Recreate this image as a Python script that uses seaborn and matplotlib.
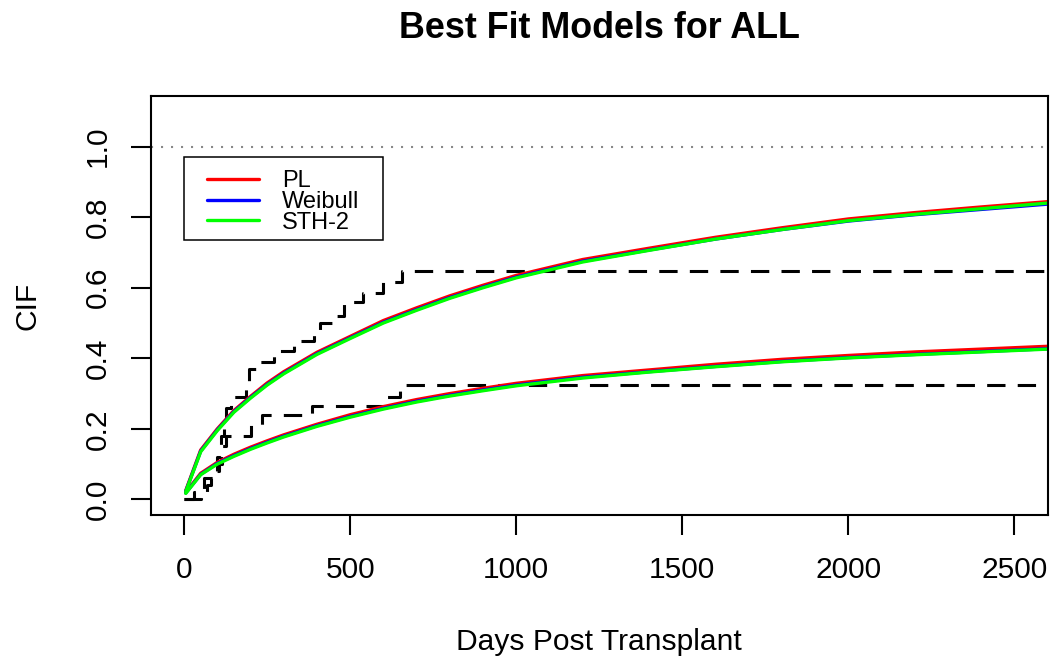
import numpy as np
import pandas as pd
import matplotlib
matplotlib.use("Agg")
import matplotlib.pyplot as plt
from matplotlib.lines import Line2D
from matplotlib.patches import Rectangle
import seaborn as sns

# fitted model curves (days, CIF) - two outcomes each
t_fit = [5, 50, 100, 150, 200, 250, 300, 400, 500, 600, 700, 800, 900, 1000,
         1200, 1400, 1600, 1800, 2000, 2200, 2400, 2600]
pl_upper = [0.025, 0.140, 0.200, 0.252, 0.292, 0.330, 0.362, 0.417, 0.462, 0.507, 0.543,
            0.577, 0.607, 0.635, 0.680, 0.712, 0.743, 0.770, 0.795, 0.813, 0.829, 0.844]
weib_upper = [0.023, 0.137, 0.197, 0.249, 0.289, 0.326, 0.358, 0.413, 0.458, 0.502, 0.538,
              0.572, 0.602, 0.630, 0.675, 0.707, 0.738, 0.765, 0.789, 0.807, 0.822, 0.837]
sth_upper = [0.022, 0.135, 0.195, 0.247, 0.287, 0.324, 0.356, 0.411, 0.456, 0.500, 0.536,
             0.570, 0.600, 0.628, 0.673, 0.706, 0.738, 0.765, 0.790, 0.808, 0.824, 0.840]
pl_lower = [0.020, 0.074, 0.105, 0.128, 0.148, 0.166, 0.183, 0.213, 0.240, 0.263, 0.283,
            0.300, 0.315, 0.329, 0.351, 0.367, 0.383, 0.397, 0.408, 0.418, 0.426, 0.434]
weib_lower = [0.018, 0.071, 0.102, 0.124, 0.144, 0.162, 0.179, 0.209, 0.235, 0.258, 0.278,
              0.295, 0.310, 0.324, 0.346, 0.362, 0.377, 0.391, 0.402, 0.411, 0.419, 0.427]
sth_lower = [0.017, 0.070, 0.100, 0.122, 0.142, 0.160, 0.177, 0.207, 0.233, 0.256, 0.276,
             0.293, 0.308, 0.322, 0.344, 0.361, 0.376, 0.390, 0.401, 0.410, 0.418, 0.426]

# nonparametric step estimates
km_upper_t = [0, 30, 60, 100, 110, 120, 125, 140, 185, 195, 230, 270, 330,
              390, 410, 450, 480, 540, 600, 655, 2600]
km_upper_y = [0.0, 0.02, 0.06, 0.12, 0.18, 0.22, 0.26, 0.29, 0.32, 0.37, 0.39, 0.42,
              0.45, 0.47, 0.50, 0.52, 0.56, 0.585, 0.615, 0.647, 0.647]
km_lower_t = [0, 50, 70, 80, 95, 105, 115, 125, 200, 235, 385, 610, 650, 665, 2600]
km_lower_y = [0.0, 0.02, 0.04, 0.06, 0.08, 0.10, 0.15, 0.18, 0.21, 0.24, 0.265,
              0.29, 0.31, 0.323, 0.323]

models = ["PL", "Weibull", "STH-2"]
colors = {"PL": "#FF0000", "Weibull": "#0000FF", "STH-2": "#00FF00"}

rows = []
for m, up, lo in zip(models, [pl_upper, weib_upper, sth_upper],
                     [pl_lower, weib_lower, sth_lower]):
    for t, u, l in zip(t_fit, up, lo):
        rows.append({"model": m, "curve": "upper", "t": t, "cif": u})
        rows.append({"model": m, "curve": "lower", "t": t, "cif": l})
fits = pd.DataFrame(rows)

sns.set_style("ticks")
plt.rcParams["font.family"] = ["Liberation Sans", "DejaVu Sans"]
plt.rcParams["text.color"] = "black"
plt.rcParams["axes.labelcolor"] = "black"

fig = plt.figure(figsize=(10.55, 6.61), dpi=100)
ax = fig.add_axes([0.143, 0.221, 0.850, 0.634])

ax.axhline(1.0, color="#888888", lw=1.5, ls=(0, (1, 3.8)))

for curve_t, curve_y in [(km_upper_t, km_upper_y), (km_lower_t, km_lower_y)]:
    ax.step(curve_t, curve_y, where="post", color="black", lw=2.2,
            dashes=(6, 4))

sns.lineplot(data=fits, x="t", y="cif", hue="model", units="curve",
             estimator=None, palette=colors, hue_order=models, lw=2.4,
             legend=False, ax=ax, sort=True)

ax.set_xlim(-100, 2600)
ax.set_ylim(-0.044, 1.144)
ax.set_xticks([0, 500, 1000, 1500, 2000, 2500])
ax.set_yticks([0.0, 0.2, 0.4, 0.6, 0.8, 1.0])
ax.set_yticklabels(["0.0", "0.2", "0.4", "0.6", "0.8", "1.0"])
for lab in ax.get_yticklabels():
    lab.set_rotation(90)
    lab.set_va("center")

for sp in ax.spines.values():
    sp.set_visible(True)
    sp.set_linewidth(1.5)
    sp.set_color("black")
ax.tick_params(axis="both", length=14.4, width=1.5, labelsize=21.5,
               color="black", labelcolor="black")
ax.tick_params(axis="x", pad=15)
ax.tick_params(axis="y", pad=14)

ax.set_xlabel("Days Post Transplant", fontsize=21.6, labelpad=32)
ax.set_ylabel("CIF", fontsize=21.6, labelpad=30)
ax.set_title("Best Fit Models for ALL", fontsize=25.8, fontweight="bold", pad=42)

# legend box drawn like base R: wider side padding than top/bottom
ax.add_patch(Rectangle((0.0368, 0.6563), 0.2219, 0.1981, transform=ax.transAxes,
                       facecolor="white", edgecolor="black", lw=1.1, zorder=4))
handles = [Line2D([], [], color=colors[m], lw=2.4) for m in models]
leg = ax.legend(handles, models, loc="upper left", bbox_to_anchor=(0.0624, 0.823),
                borderaxespad=0, borderpad=0, fontsize=17, frameon=False,
                handlelength=2.2, handletextpad=1.0, labelspacing=-0.05)
leg.set_zorder(5)

fig.savefig("out.png", dpi=100)
